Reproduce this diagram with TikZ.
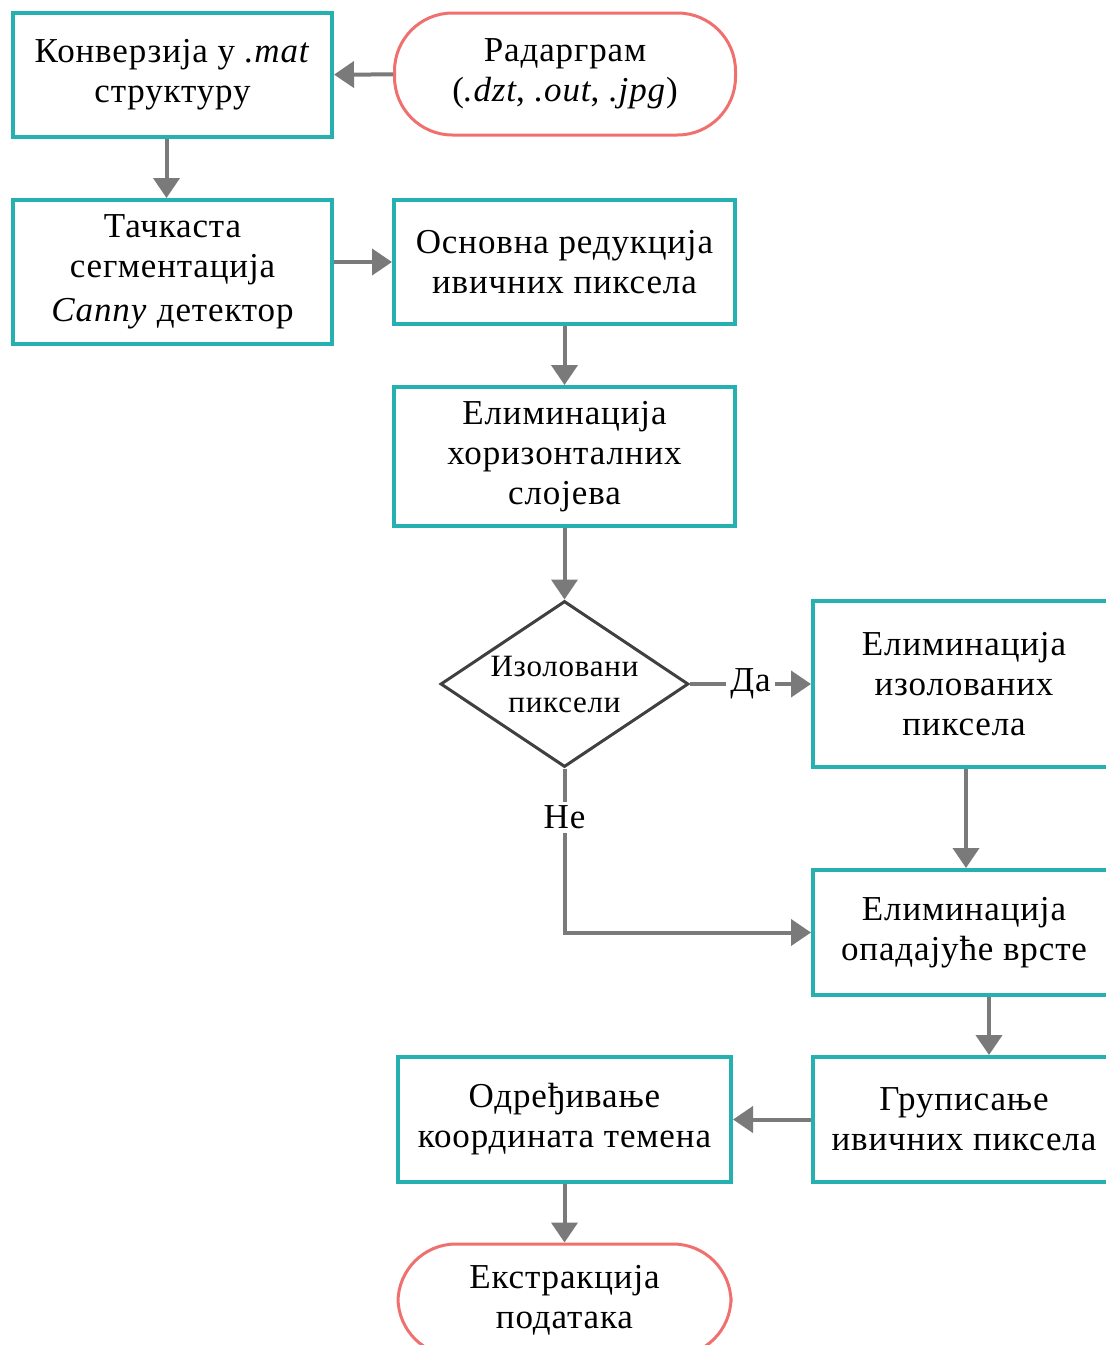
\documentclass[tikz,border=0pt]{standalone}
\usepackage{fontspec}
\setmainfont[LetterSpace=2.5]{Liberation Serif}
\usetikzlibrary{shapes.geometric, arrows.meta, positioning}

\definecolor{boxteal}{RGB}{38,176,176}
\definecolor{termred}{RGB}{240,112,112}
\definecolor{flowgray}{RGB}{122,122,122}
\definecolor{diagray}{RGB}{64,64,64}

\begin{document}
\begin{tikzpicture}[x=0.5pt, y=-0.5pt,
    every node/.style={font=\fontsize{17.5}{20}\selectfont, align=center},
    procbox/.style={draw=boxteal, line width=2pt, inner sep=2pt},
    terminal/.style={draw=termred, line width=1.5pt, rounded corners=29pt, inner sep=2pt},
    decision/.style={diamond, draw=diagray, line width=1.5pt, inner sep=0pt,
        minimum width=124pt, minimum height=83pt, aspect=1.5,
        font=\fontsize{15.5}{18}\selectfont},
    flow/.style={draw=flowgray, line width=2pt, -{Triangle[width=13pt,length=10pt]}},
    lbl/.style={fill=white, inner sep=2pt}]
    \useasboundingbox (0,0) rectangle (1105,1345);

    % Ulaz i priprema
    \node[procbox, minimum width=159.5pt, minimum height=62pt] (conv) at (172.5,75) {Конверзија у \textit{.mat}\\структуру};
    \node[terminal, minimum width=170.5pt, minimum height=61pt] (radar) at (565,74) {Радарграм\\(\textit{.dzt}, \textit{.out}, \textit{.jpg})};
    \node[procbox, minimum width=159.5pt, minimum height=72pt] (canny) at (172.5,272) {Тачкаста\\сегментација\\[2pt]\textit{Canny} детектор};
    \node[procbox, minimum width=170.5pt, minimum height=62pt] (osnov) at (564.5,262) {Основна редукција\\ивичних пиксела};
    \node[procbox, minimum width=170.5pt, minimum height=69.5pt] (horiz) at (564.5,456.5) {Елиминација\\хоризонталних\\слојева};

    % Odluka
    \node[decision] (izolq) at (564.5,684) {Изоловани\\пиксели};
    \node[procbox, minimum width=151pt, minimum height=83pt] (izol) at (964,684) {Елиминација\\изолованих\\пиксела};
    \node[procbox, minimum width=151pt, minimum height=62.5pt] (opad) at (964,932.5) {Елиминација\\опадајуће врсте};
    \node[procbox, minimum width=151pt, minimum height=62.5pt] (grup) at (964,1119.5) {Груписање\\ивичних пиксела};
    \node[procbox, minimum width=166.5pt, minimum height=62.5pt] (odr) at (564.5,1119.5) {Одређивање\\координата темена};
    \node[terminal, minimum width=166.5pt, minimum height=56pt] (ekstr) at (564.5,1300) {Екстракција\\података};

    % Veze
    \draw[flow] (radar) -- (conv);
    \draw[flow] ([xshift=-3pt]conv.south) -- ([xshift=-3pt]canny.north);
    \draw[flow] (canny.east |- osnov) -- (osnov);
    \draw[flow] (osnov) -- (horiz);
    \draw[flow] (horiz) -- (izolq);
    \draw[flow] (izolq) -- node[lbl] {Да} (izol);
    \draw[flow] (izolq.south) |- node[lbl, pos=0.15] {Не} (opad.west);
    \draw[flow] ([xshift=1pt]izol.south) -- ([xshift=1pt]opad.north);
    \draw[flow] ([xshift=12.5pt]opad.south) -- ([xshift=12.5pt]grup.north);
    \draw[flow] (grup) -- (odr);
    \draw[flow] (odr) -- (ekstr);
\end{tikzpicture}
\end{document}
